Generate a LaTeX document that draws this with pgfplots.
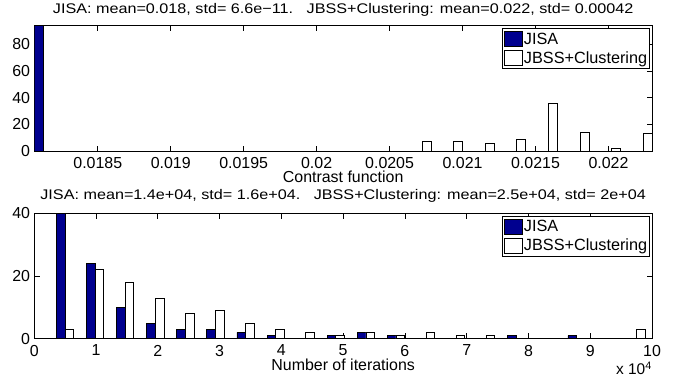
\documentclass[border=0pt]{standalone}
\usepackage{fontspec}
\setmainfont{Liberation Sans}
\newfontfamily\titlefont[FakeStretch=1.16]{Liberation Sans}
\usepackage{pgfplots}
\pgfplotsset{compat=1.18}
\usepackage{pgfplotstable}

\definecolor{jisa}{RGB}{0,0,143}

% top histogram: contrast function (bin centres, counts)
\pgfplotstableread{
x y
0.018127 94
}\topjisa
\pgfplotstableread{
x y
0.0207226 7
0.0209389 7
0.0211552 6
0.0213715 9
0.0215878 36
0.0218041 14
0.0220204 2
0.0222367 13
}\topjbss

% bottom histogram: number of iterations (bin centres, counts)
\pgfplotstableread{
x y
4970 40
9841 24
14712 10
19583 5
24454 3
29325 3
34196 2
39067 1
48809 1
53680 2
58551 1
78035 1
87777 1
}\botjisa
\pgfplotstableread{
x y
4970 3
9841 22
14712 18
19583 13
24454 8
29325 9
34196 5
39067 3
43938 2
48809 1
53680 2
58551 1
63422 2
68293 1
73164 1
97519 3
}\botjbss

\pgfplotsset{
  histax/.style={
    scale only axis, width=617.7bp, height=125.3bp,
    ybar, ymin=0, enlargelimits=false,
    axis line style={line width=0.7bp},
    every tick/.style={black, line width=0.7bp},
    major tick length=5.5bp,
    tick align=inside,
    font=\fontsize{16}{18}\selectfont,
    /pgf/number format/assume math mode=true,
    yticklabel style={inner sep=0pt, xshift=-4bp},
    xticklabel style={inner sep=0pt, yshift=-6bp},
    xlabel style={at={(axis description cs:0.5,0)}, anchor=north, inner sep=0pt, yshift=-20bp},
    title style={at={(0.5,1)}, anchor=base, inner sep=0pt, font=\titlefont\fontsize{14}{16}\selectfont},
    legend style={at={(rel axis cs:0.9968,0.979)}, anchor=north east, draw=black, line width=0.7bp,
      fill=white, inner xsep=1.5bp, inner ysep=2bp, row sep=2bp,
      font=\fontsize{16.3}{18}\selectfont,
      nodes={inner xsep=1bp, inner ysep=2bp}},
    legend cell align=left,
    legend image code/.code={\draw[#1, draw=black, line width=0.7bp] (0bp,-7.5bp) rectangle (18bp,7.5bp);},
    scaled x ticks=false,
  }
}

\begin{document}
\begin{tikzpicture}
\useasboundingbox (-34.3bp,-228bp) rectangle (642.7bp,151bp);
\begin{axis}[histax,
  at={(0,0)}, anchor=south west,
  xmin=0.018065, xmax=0.0222985, ymax=94,
  xtick={0.0185,0.019,0.0195,0.02,0.0205,0.021,0.0215,0.022},
  xticklabels={0.0185,0.019,0.0195,0.02,0.0205,0.021,0.0215,0.022},
  ytick={0,20,40,60,80},
  xlabel={Contrast function},
  title style={yshift=6bp},
  title={JISA: mean=0.018, std= 6.6e−11.\ \ \ JBSS+Clustering: mean=0.022, std= 0.00042},
  bar width=9bp,
]
\addplot[fill=jisa, draw=black, line width=0.7bp, bar shift=-4.5bp] table[x=x,y=y] {\topjisa};
\addlegendentry{JISA}
\addplot[fill=white, draw=black, line width=0.7bp, bar shift=4.5bp] table[x=x,y=y] {\topjbss};
\addlegendentry{JBSS+Clustering}
\end{axis}

\begin{axis}[histax,
  at={(0,-187.7bp)}, anchor=south west,
  xmin=0, xmax=100000, ymax=40,
  xtick={0,10000,20000,30000,40000,50000,60000,70000,80000,90000,100000},
  xticklabels={0,1,2,3,4,5,6,7,8,9,10},
  ytick={0,20,40},
  xlabel={Number of iterations},
  title style={yshift=8bp},
  title={JISA: mean=1.4e+04, std= 1.6e+04.\ \ \ JBSS+Clustering: mean=2.5e+04, std= 2e+04},
  bar width=8.6bp,
  after end axis/.code={
    \node[anchor=base east, inner sep=0pt, font=\fontsize{15.5}{18}\selectfont] at ([yshift=-36bp]rel axis cs:1,0) {x 10\textsuperscript{4}};
  },
]
\addplot[fill=jisa, draw=black, line width=0.7bp, bar shift=-4.3bp] table[x=x,y=y] {\botjisa};
\addlegendentry{JISA}
\addplot[fill=white, draw=black, line width=0.7bp, bar shift=4.3bp] table[x=x,y=y] {\botjbss};
\addlegendentry{JBSS+Clustering}
\end{axis}
\end{tikzpicture}
\end{document}
